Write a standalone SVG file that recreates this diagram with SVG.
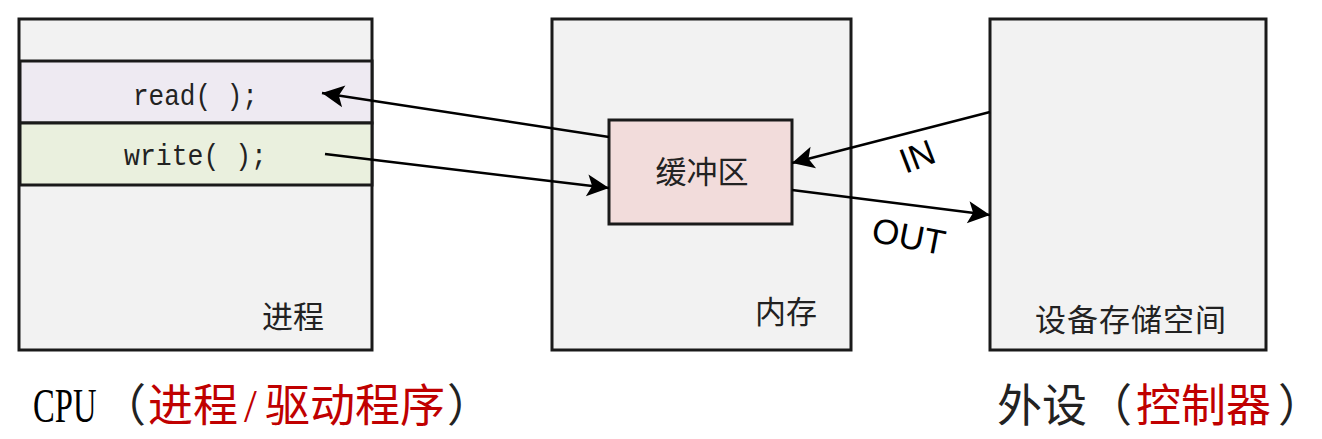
<svg xmlns="http://www.w3.org/2000/svg" width="1322" height="439" viewBox="0 0 1322 439">
<style>
.box{fill:#f2f2f2;stroke:#1a1a1a;stroke-width:3}
.conn{fill:none;stroke:#000;stroke-width:2.5}
.cjk{font-family:"Noto Sans CJK SC","Noto Sans",sans-serif;fill:#222}
.mono{font-family:"Liberation Mono",monospace;font-size:29px;fill:#222}
.lab{font-family:"Liberation Sans",Arial,sans-serif;font-size:35px;fill:#000}
.red{fill:#c00000}
</style>
<defs>
<marker id="ah" markerUnits="userSpaceOnUse" markerWidth="24" markerHeight="24" viewBox="0 0 24 24" refX="23" refY="12" orient="auto">
<path d="M23,12 L1,1 L6,12 L1,23 Z" fill="#000"/>
</marker>
</defs>
<rect width="1322" height="439" fill="#fff"/>
<g id="process">
<rect class="box" x="19" y="19" width="353" height="331"/>
<rect x="20" y="61" width="352" height="62" fill="#eeeaf2" stroke="#1a1a1a" stroke-width="3"/>
<rect x="20" y="123" width="352" height="62" fill="#eaf0de" stroke="#1a1a1a" stroke-width="3"/>
<text class="mono" x="133" y="105" textLength="125" lengthAdjust="spacingAndGlyphs">read( );</text>
<text class="mono" x="124" y="165" textLength="143" lengthAdjust="spacingAndGlyphs">write( );</text>
<text class="cjk" x="262" y="328" font-size="31">进程</text>
</g>
<g id="memory">
<rect class="box" x="552" y="19" width="299" height="331"/>
<text class="cjk" x="755" y="323" font-size="31">内存</text>
</g>
<g id="buffer">
<rect x="609" y="120" width="183" height="104" fill="#f2dcdb" stroke="#1a1a1a" stroke-width="3"/>
<text class="cjk" x="702" y="183" font-size="31" text-anchor="middle">缓冲区</text>
</g>
<g id="device">
<rect class="box" x="990" y="19" width="276" height="331"/>
<text class="cjk" x="1131" y="331" font-size="31" text-anchor="middle" letter-spacing="1">设备存储空间</text>
</g>
<g id="connectors">
<path class="conn" d="M609,137 L322,93" marker-end="url(#ah)"/>
<path class="conn" d="M325,154 L609,188" marker-end="url(#ah)"/>
<path class="conn" d="M990,112 L792,163" marker-end="url(#ah)"/>
<path class="conn" d="M792,190 L990,215" marker-end="url(#ah)"/>
<text class="lab" x="917" y="156" dy="0.36em" text-anchor="middle" transform="rotate(-21 917 156)">IN</text>
<text class="lab" x="909" y="236" dy="0.36em" text-anchor="middle" transform="rotate(11 909 236)">OUT</text>
</g>
<g id="caption-cpu">
<text transform="translate(33,422) scale(0.68,1)" font-family="Liberation Serif,serif" font-size="48" fill="#000">CPU</text>
<text class="cjk" x="101" y="422" font-size="45" fill="#000">（</text>
<text class="cjk red" x="148" y="422" font-size="45">进程</text>
<text class="red" x="244" y="422" font-family="Liberation Serif,serif" font-size="46">/</text>
<text class="cjk red" x="265" y="422" font-size="45">驱动程序</text>
<text class="cjk" x="447" y="422" font-size="45" fill="#000">）</text>
</g>
<g id="caption-device">
<text class="cjk" x="997" y="422" font-size="45" fill="#000">外设（</text>
<text class="cjk red" x="1136" y="422" font-size="45">控制器</text>
<text class="cjk" x="1278" y="422" font-size="45" fill="#000">）</text>
</g>
</svg>
